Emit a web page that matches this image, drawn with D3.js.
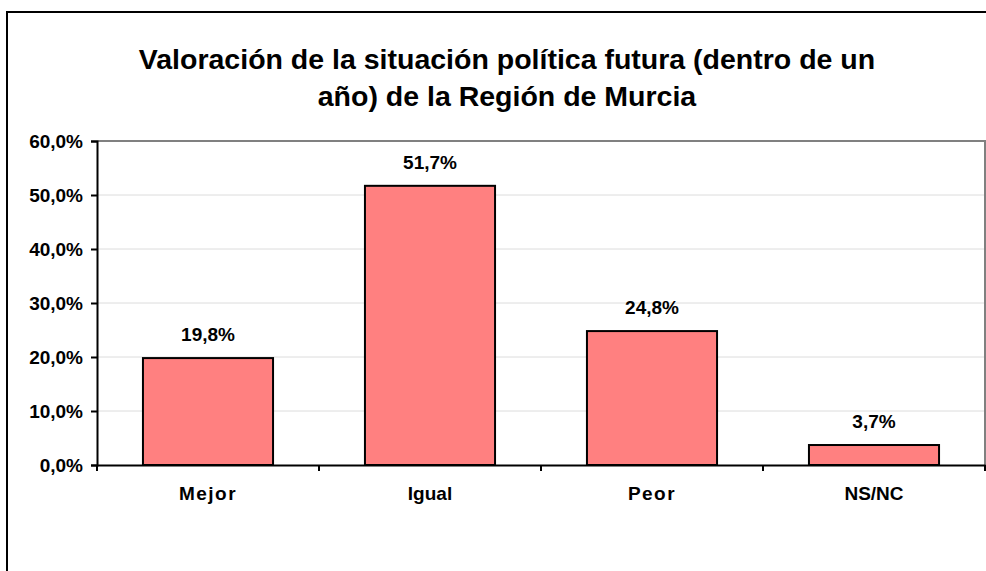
<!DOCTYPE html>
<html>
<head>
<meta charset="utf-8">
<script src="https://cdn.jsdelivr.net/npm/d3@7"></script>
<style>
  html, body { margin: 0; padding: 0; background: #fff; }
  svg { display: block; font-family: "Liberation Sans", Arial, sans-serif; }
</style>
</head>
<body>
<svg id="chart" width="986" height="571"></svg>
<script>
const categories = ["Mejor", "Igual", "Peor", "NS/NC"];
const values = [19.8, 51.7, 24.8, 3.7];
const yTicks = [0, 10, 20, 30, 40, 50, 60];
const titleLines = ["Valoración de la situación política futura (dentro de un", "año) de la Región de Murcia"];

const svg = d3.select("#chart");
const plot = { left: 97, right: 985, top: 141, bottom: 465 };

const locale = d3.formatLocale({ decimal: ",", thousands: ".", grouping: [3], currency: ["", "€"] });
const f1 = locale.format(".1f");
const pct = d => f1(d) + "%";

// outer border
svg.append("rect")
  .attr("x", 7).attr("y", 12).attr("width", 1000).attr("height", 600)
  .attr("fill", "none").attr("stroke", "#000").attr("stroke-width", 2);

// title
const title = svg.append("text")
  .attr("text-anchor", "middle")
  .attr("font-size", 28.5).attr("font-weight", "bold").attr("fill", "#000");
titleLines.forEach((t, i) => {
  title.append("tspan").attr("x", 507).attr("y", 69 + i * 37).text(t);
});

const x = d3.scaleBand().domain(categories)
  .range([plot.left, plot.right]).paddingInner(0.414).paddingOuter(0.207);
const y = d3.scaleLinear().domain([0, 60]).range([plot.bottom, plot.top]);

// gridlines
svg.append("g").selectAll("line")
  .data(yTicks.filter(d => d > 0 && d < 60))
  .join("line")
  .attr("x1", plot.left).attr("x2", plot.right)
  .attr("y1", d => y(d)).attr("y2", d => y(d))
  .attr("stroke", "#dcdcdc").attr("stroke-width", 1);

// plot top & right border
svg.append("path")
  .attr("d", `M${plot.left},${plot.top}H${plot.right}V${plot.bottom}`)
  .attr("fill", "none").attr("stroke", "#808080").attr("stroke-width", 2);

// bars
svg.append("g").selectAll("rect")
  .data(categories)
  .join("rect")
  .attr("x", d => x(d))
  .attr("y", (d, i) => y(values[i]))
  .attr("width", x.bandwidth())
  .attr("height", (d, i) => y(0) - y(values[i]))
  .attr("fill", "#FF8080").attr("stroke", "#000").attr("stroke-width", 2);

// value labels
svg.append("g").selectAll("text")
  .data(categories)
  .join("text")
  .attr("x", d => x(d) + x.bandwidth() / 2)
  .attr("y", (d, i) => y(values[i]) - 17)
  .attr("text-anchor", "middle")
  .attr("font-size", 19).attr("font-weight", "bold").attr("fill", "#000")
  .text((d, i) => pct(values[i]));

// y axis
const yAxis = svg.append("g").attr("transform", `translate(${plot.left},0)`)
  .call(d3.axisLeft(y).tickValues(yTicks).tickFormat(pct).tickSize(6).tickPadding(8));
yAxis.select(".domain").attr("stroke", "#000").attr("stroke-width", 2);
yAxis.selectAll(".tick line").attr("stroke", "#000").attr("stroke-width", 2);
yAxis.selectAll(".tick text")
  .attr("font-size", 19).attr("font-weight", "bold").attr("fill", "#000")
  .attr("font-family", "Liberation Sans, Arial, sans-serif");

// x axis
const xAxis = svg.append("g").attr("transform", `translate(0,${plot.bottom})`)
  .call(d3.axisBottom(x).tickSize(0).tickPadding(22));
xAxis.select(".domain").attr("stroke", "#000").attr("stroke-width", 2);
xAxis.selectAll(".tick text")
  .attr("font-size", 19).attr("font-weight", "bold").attr("fill", "#000")
  .attr("font-family", "Liberation Sans, Arial, sans-serif")
  .attr("letter-spacing", d => (d === "Mejor" || d === "Peor") ? 1.5 : 0);
// category boundary ticks
const bounds = categories.map(c => x(c) - x.step() * x.paddingInner() / 2).concat([plot.right]);
xAxis.append("g").selectAll("line")
  .data(bounds)
  .join("line")
  .attr("x1", d => d).attr("x2", d => d)
  .attr("y1", 0).attr("y2", 6)
  .attr("stroke", "#000").attr("stroke-width", 2);
</script>
</body>
</html>
